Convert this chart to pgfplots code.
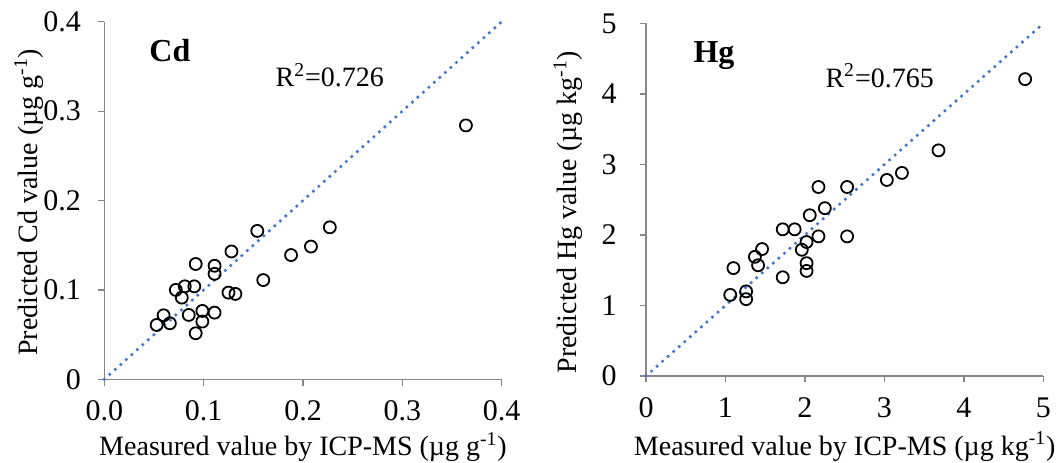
\documentclass[border=0pt]{standalone}
\usepackage{fontspec}
\setmainfont{Liberation Serif}
\usepackage{pgfplots}
\pgfplotsset{compat=1.18}

\definecolor{fitblue}{RGB}{70,120,200}
\definecolor{axgray}{RGB}{134,134,134}

\pgfplotsset{
  panel/.style={
    scale only axis,
    clip=false,
    axis x line=bottom, axis y line=left,
    axis line style={axgray, line width=0.6pt, -},
    tick align=outside, major tick length=3.2pt,
    tick style={axgray, line width=0.6pt},
    ticklabel style={font=\fontsize{15}{15}\selectfont},
    xticklabel style={yshift=-4pt},
    /pgf/number format/assume math mode=true,
    label style={font=\fontsize{14}{16}\selectfont},
  },
  pts/.style={only marks, mark=o, mark size=3pt, black, line width=0.9pt},
  fit/.style={fitblue, line width=1.8pt, line cap=round, dash pattern=on 0pt off 3.7pt},
}

\begin{document}
\begin{tikzpicture}
  \path[use as bounding box] (0,0) rectangle (529.5pt,231pt);

  % Cd panel
  \begin{axis}[panel,
      at={(52.15pt,41.35pt)}, anchor=south west,
      width=198.7pt, height=178.8pt,
      xmin=0, xmax=0.4, ymin=0, ymax=0.4,
      xtick={0,0.1,0.2,0.3,0.4}, ytick={0,0.1,0.2,0.3,0.4},
      xticklabel style={/pgf/number format/.cd, fixed, fixed zerofill, precision=1},
      yticklabel style={xshift=-5pt, /pgf/number format/.cd, fixed, precision=1},
      xlabel={Measured value by ICP-MS (µg g\textsuperscript{-1})},
      ylabel={Predicted Cd value (µg g\textsuperscript{-1})},
      xlabel style={at={(axis description cs:0.5,-0.19)}, anchor=center},
      ylabel style={at={(axis description cs:-0.19,0.495)}, anchor=center},
    ]
    \addplot[fit] coordinates {(0,0)(0.4,0.4)};
    \addplot[pts] coordinates {
      (0.364,0.284)(0.227,0.170)(0.208,0.1485)(0.188,0.139)
      (0.154,0.166)(0.160,0.111)(0.128,0.143)(0.111,0.127)
      (0.111,0.118)(0.092,0.129)(0.125,0.097)(0.132,0.0955)
      (0.0906,0.104)(0.081,0.104)(0.072,0.100)(0.078,0.0914)
      (0.085,0.072)(0.0987,0.0765)(0.111,0.0746)(0.0987,0.0646)
      (0.092,0.0515)(0.0597,0.0716)(0.066,0.0627)(0.0527,0.0608)
    };
    \node[font=\bfseries\fontsize{16}{16}\selectfont] at (axis cs:0.066,0.368) {Cd};
    \node[font=\fontsize{14}{14}\selectfont] at (axis cs:0.227,0.340) {R\textsuperscript{2}=0.726};
  \end{axis}

  % Hg panel
  \begin{axis}[panel,
      at={(323pt,43pt)}, anchor=south west,
      width=198.7pt, height=176.3pt,
      xmin=0, xmax=5, ymin=0, ymax=5,
      xtick={0,1,2,3,4,5}, ytick={0,1,2,3,4,5},
      yticklabel style={xshift=-8pt},
      xlabel={Measured value by ICP-MS (µg kg\textsuperscript{-1})},
      ylabel={Predicted Hg value (µg kg\textsuperscript{-1})},
      xlabel style={at={(axis description cs:0.5,-0.2)}, anchor=center},
      ylabel style={at={(axis description cs:-0.196,0.465)}, anchor=center},
    ]
    \addplot[fit] coordinates {(0,0)(5,5)};
    \addplot[pts] coordinates {
      (4.77,4.21)(3.68,3.20)(3.22,2.88)(3.03,2.78)
      (2.53,2.68)(2.17,2.68)(2.25,2.38)(2.06,2.28)
      (1.87,2.08)(1.72,2.08)(2.17,1.98)(2.53,1.98)
      (2.02,1.90)(1.96,1.79)(1.46,1.80)(1.37,1.69)
      (1.41,1.57)(2.02,1.60)(2.02,1.49)(1.72,1.40)
      (1.10,1.53)(1.06,1.15)(1.26,1.20)(1.26,1.09)
    };
    \node[font=\bfseries\fontsize{16}{16}\selectfont] at (axis cs:0.855,4.55) {Hg};
    \node[font=\fontsize{14}{14}\selectfont] at (axis cs:2.94,4.26) {R\textsuperscript{2}=0.765};
  \end{axis}
\end{tikzpicture}
\end{document}
